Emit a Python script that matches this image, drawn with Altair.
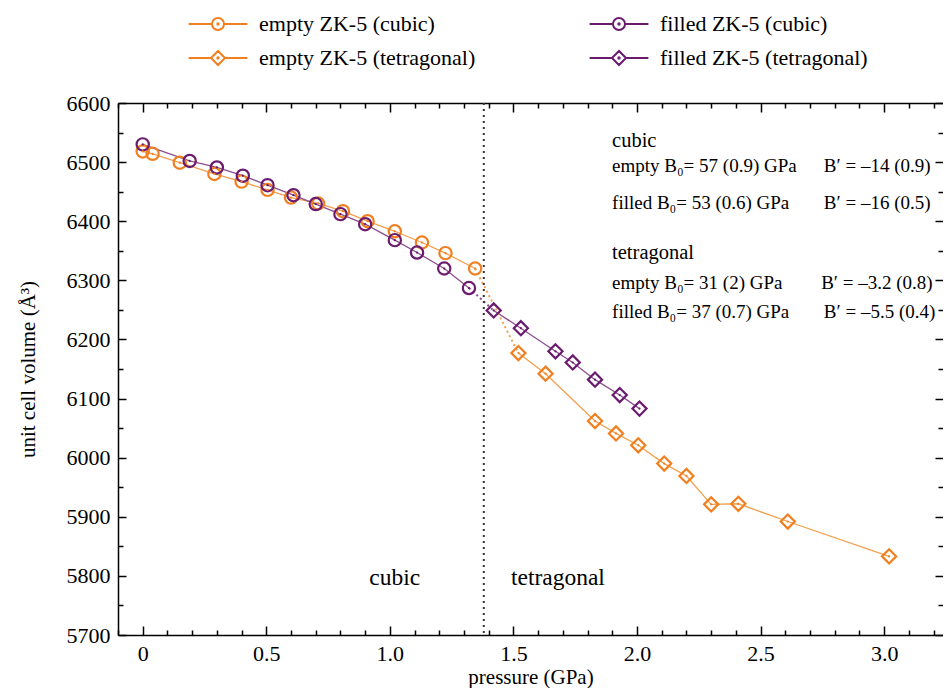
import altair as alt
import pandas as pd
import numpy as np

# ---------------- data ----------------
empty_cubic_p = [0.0, 0.04, 0.15, 0.29, 0.40, 0.505, 0.60, 0.71, 0.81, 0.91, 1.02, 1.13, 1.225, 1.345]
empty_cubic_v = [6518, 6514, 6499, 6480, 6467, 6453, 6440, 6430, 6417, 6400, 6383, 6364, 6346, 6320]

filled_cubic_p = [0.0, 0.19, 0.30, 0.405, 0.505, 0.61, 0.70, 0.80, 0.90, 1.02, 1.11, 1.22, 1.32]
filled_cubic_v = [6530, 6502, 6491, 6477, 6461, 6444, 6429, 6412, 6395, 6368, 6347, 6320, 6287]

empty_tet_p = [1.52, 1.63, 1.83, 1.915, 2.005, 2.11, 2.20, 2.30, 2.41, 2.61, 3.02]
empty_tet_v = [6177, 6142, 6062, 6041, 6021, 5990, 5969, 5921, 5922, 5892, 5833]

filled_tet_p = [1.42, 1.53, 1.67, 1.74, 1.83, 1.93, 2.01]
filled_tet_v = [6249, 6219, 6180, 6161, 6132, 6106, 6083]

# legend order (column-major, 2 columns)
series_names = ["empty ZK-5 (cubic)", "empty ZK-5 (tetragonal)",
                "filled ZK-5 (cubic)", "filled ZK-5 (tetragonal)"]

transition_pressure = [1.38]

ann_text = ["cubic",
            "empty B\u2080= 57 (0.9) GPa", "B\u2032 = \u201314 (0.9)",
            "filled B\u2080= 53 (0.6) GPa", "B\u2032 = \u201316 (0.5)",
            "tetragonal",
            "empty B\u2080= 31 (2) GPa", "B\u2032 = \u20133.2 (0.8)",
            "filled B\u2080= 37 (0.7) GPa", "B\u2032 = \u20135.5 (0.4)"]
ann_p = [1.899, 1.899, 2.756, 1.899, 2.756, 1.899, 1.899, 2.745, 1.899, 2.756]
ann_v = [6535, 6493, 6493, 6430, 6430, 6346, 6296, 6296, 6247, 6247]
ann_kind = ["head", "row", "row", "row", "row", "head", "row", "row", "row", "row"]

phase_text = ["cubic", "tetragonal"]
phase_p = [1.02, 1.68]
phase_v = [5797, 5797]

x_label_values = [0, 0.5, 1.0, 1.5, 2.0, 2.5, 3.0]
y_label_values = [5700, 5800, 5900, 6000, 6100, 6200, 6300, 6400, 6500, 6600]

# ---------------- styling ----------------
ORANGE = "#F07F1F"
PURPLE = "#6A1B6E"
ORANGE_L = "#F2A04E"
PURPLE_L = "#8C4F8E"
FONT = "Liberation Serif"
W, H = 825, 532

rows = []
for name, mat, ph, ps, vs in [
    ("empty ZK-5 (cubic)", "empty", "cubic", empty_cubic_p, empty_cubic_v),
    ("filled ZK-5 (cubic)", "filled", "cubic", filled_cubic_p, filled_cubic_v),
    ("empty ZK-5 (tetragonal)", "empty", "tetragonal", empty_tet_p, empty_tet_v),
    ("filled ZK-5 (tetragonal)", "filled", "tetragonal", filled_tet_p, filled_tet_v),
]:
    for p, v in zip(ps, vs):
        rows.append({"p": p, "v": v, "series": name, "material": mat, "phase": ph})
df = pd.DataFrame(rows)

trans_df = pd.DataFrame([
    {"p": empty_cubic_p[-1], "v": empty_cubic_v[-1], "material": "empty"},
    {"p": empty_tet_p[0], "v": empty_tet_v[0], "material": "empty"},
    {"p": filled_cubic_p[-1], "v": filled_cubic_v[-1], "material": "filled"},
    {"p": filled_tet_p[0], "v": filled_tet_v[0], "material": "filled"},
])

ann_df = pd.DataFrame({"text": ann_text, "p": ann_p, "v": ann_v, "kind": ann_kind})
phase_df = pd.DataFrame({"text": phase_text, "p": phase_p, "v": phase_v})
vline_df = pd.DataFrame({"p": transition_pressure})

xscale = alt.Scale(domain=[-0.1, 3.238], nice=False, zero=False)
yscale = alt.Scale(domain=[5700, 6600], nice=False, zero=False)

x_minor = [round(v, 1) for v in np.arange(-0.1, 3.25, 0.1) if v <= 3.2001]
y_minor = list(range(5700, 6601, 50))

x_major_test = "abs(datum.value*2 - round(datum.value*2)) < 0.001"
y_major_test = "datum.value % 100 == 0"

dom = dict(domain=True, domainColor="black", domainWidth=1.5)

# label axes (also draw the left and bottom frame lines)
x_lab = alt.X("p:Q", scale=xscale, title="pressure (GPa)",
              axis=alt.Axis(values=x_label_values, ticks=False, grid=False,
                            labelExpr="datum.value == 0 ? '0' : format(datum.value, '.1f')",
                            labelFont=FONT, labelFontSize=22, labelColor="black",
                            labelPadding=8, titlePadding=2, **dom))
y_lab = alt.Y("v:Q", scale=yscale, title="unit cell volume (\u00c5\u00b3)",
              axis=alt.Axis(values=y_label_values, ticks=False, grid=False,
                            format="d", labelFont=FONT, labelFontSize=22, labelColor="black",
                            labelPadding=8, titlePadding=28, **dom))

xtick_kw = dict(values=x_minor, labels=False, grid=False, title=None,
                tickColor="black", tickWidth=1.5,
                tickSize={"condition": {"test": x_major_test, "value": 9}, "value": 5})
ytick_kw = dict(values=y_minor, labels=False, domain=False, grid=False, title=None,
                tickColor="black", tickWidth=1.5,
                tickSize={"condition": {"test": y_major_test, "value": 8}, "value": 5})

# inward ticks on all four edges (top edge axis also draws the top frame line)
x_t1 = alt.X("p:Q", scale=xscale, axis=alt.Axis(orient="top", offset=-H, domain=False, **xtick_kw))
x_t2 = alt.X("p:Q", scale=xscale, axis=alt.Axis(orient="bottom", offset=-H, **dom, **xtick_kw))
y_t1 = alt.Y("v:Q", scale=yscale, axis=alt.Axis(orient="right", offset=-W, **ytick_kw))
y_t2 = alt.Y("v:Q", scale=yscale, axis=alt.Axis(orient="left", offset=-W, **ytick_kw))

x_no = alt.X("p:Q", scale=xscale, axis=None)
y_no = alt.Y("v:Q", scale=yscale, axis=None)

col_series = alt.Scale(domain=series_names, range=[ORANGE, ORANGE, PURPLE, PURPLE])
mat_scale = alt.Scale(domain=["empty", "filled"], range=[ORANGE_L, PURPLE_L])

lines = alt.Chart(df).mark_line(strokeWidth=1.3).encode(
    x=x_lab, y=y_lab,
    color=alt.Color("material:N", scale=mat_scale, legend=None),
    detail="series:N", order="p:Q")

trans = alt.Chart(trans_df).mark_line(strokeWidth=2, strokeDash=[2, 3]).encode(
    x=x_no, y=y_no,
    color=alt.Color("material:N", scale=mat_scale, legend=None),
    detail="material:N")

vline = alt.Chart(vline_df).mark_rule(color="#333333", strokeWidth=2, strokeDash=[2, 4]).encode(x=x_no)

points = alt.Chart(df).mark_point(filled=False, strokeWidth=2.2, opacity=1).encode(
    x=x_t1, y=y_t1,
    color=alt.Color("series:N", scale=col_series, legend=None),
    shape=alt.Shape("series:N", scale=alt.Scale(domain=series_names, range=["circle", "diamond", "circle", "diamond"]), legend=None),
    size=alt.Size("phase:N", scale=alt.Scale(domain=["cubic", "tetragonal"], range=[150, 200]), legend=None))

dots = alt.Chart(df).mark_point(filled=True, size=5, shape="circle", opacity=1).encode(
    x=x_t2, y=y_t2,
    color=alt.Color("series:N", scale=col_series, legend=None))

ann = alt.Chart(ann_df).mark_text(align="left", baseline="middle", font=FONT, color="black").encode(
    x=x_no, y=y_no, text="text:N",
    size=alt.Size("kind:N", scale=alt.Scale(domain=["head", "row"], range=[20.5, 19]), legend=None))

phase = alt.Chart(phase_df).mark_text(align="center", baseline="middle", font=FONT, fontSize=23.5, color="black").encode(
    x=x_no, y=y_no, text="text:N")

# legend-only layer with line-through symbols
PC = ("M-4.9,0L-1.05,0M1.05,0L4.9,0M1,0A1,1,0,1,1,-1,0A1,1,0,1,1,1,0"
      "M0.12,0A0.12,0.12,0,1,1,-0.12,0A0.12,0.12,0,1,1,0.12,0")
PD = ("M-4.9,0L-1.2,0M1.2,0L4.9,0M-1.17,0L0,-1.17L1.17,0L0,1.17Z"
      "M0.12,0A0.12,0.12,0,1,1,-0.12,0A0.12,0.12,0,1,1,0.12,0")
leg = alt.Legend(title=None, orient="none", legendX=89, legendY=-90, columns=2,
                 columnPadding=109, rowPadding=11, symbolSize=144, symbolStrokeWidth=2,
                 symbolOpacity=1, labelFont=FONT, labelFontSize=22, labelColor="black",
                 labelLimit=0, labelOffset=30, direction="vertical")
legend_layer = alt.Chart(df).mark_point(filled=False, opacity=0).encode(
    x=x_no, y=y_no,
    color=alt.Color("series:N", scale=col_series, legend=leg, sort=series_names),
    shape=alt.Shape("series:N", scale=alt.Scale(domain=series_names, range=[PC, PD, PC, PD]), legend=leg, sort=series_names))

chart = alt.layer(lines, trans, vline, points, dots, ann, phase, legend_layer).resolve_scale(
    color="independent", shape="independent", size="independent"
).resolve_axis(
    x="independent", y="independent"
).properties(
    width=W, height=H,
    autosize=alt.AutoSizeParams(type="none"),
    padding={"left": 110, "top": 95, "right": 0, "bottom": 53},
).configure_view(
    strokeWidth=0
).configure_axis(
    labelFont=FONT, labelFontSize=22, labelColor="black",
    titleFont=FONT, titleFontSize=21, titleFontWeight="normal", titleColor="black"
).configure_legend(
    labelFont=FONT
)

chart.save("out.html", embed_options={"renderer": "svg", "actions": False})
